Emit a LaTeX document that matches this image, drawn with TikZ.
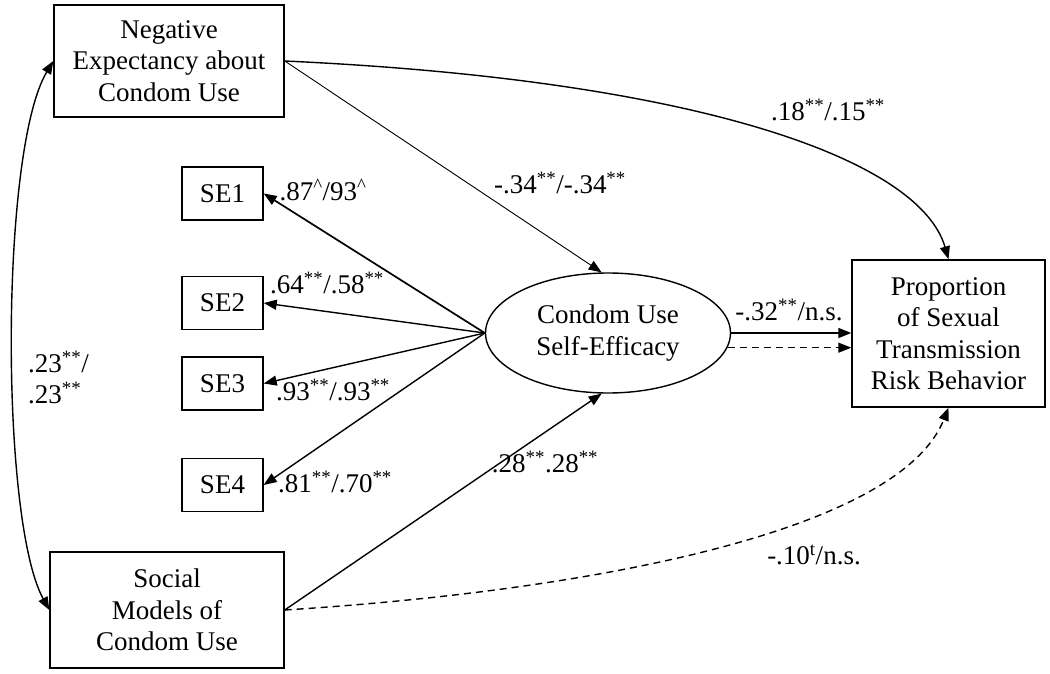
\documentclass[tikz,border=0pt]{standalone}
\usepackage{fontspec}
\setmainfont{Liberation Serif}
\usetikzlibrary{arrows.meta,shapes.geometric}
\newcommand\sst{\textsuperscript{**}}
\newcommand\sca{\textsuperscript{\textasciicircum}}
\begin{document}
\begin{tikzpicture}[x=1pt,y=-1pt,
  box/.style={draw,line width=1.4pt,inner sep=0pt,align=center,font=\fontsize{27}{31.5}\selectfont},
  lbl/.style={inner sep=0pt,font=\fontsize{27}{31.5}\selectfont},
  tip/.tip={Triangle[length=13pt,width=10pt]},
  arr/.style={line width=1.4pt,-tip},
  dsh/.style={dash pattern=on 7pt off 5pt}]
\useasboundingbox (0,0) rectangle (1050,674);
\node[box,minimum width=230pt,minimum height=112pt] (neg) at (169,61) {Negative\\Expectancy about\\Condom Use};
\node[box,minimum width=234pt,minimum height=116pt] (soc) at (167,610) {Social\\Models of\\Condom Use};
\node[box,minimum width=81pt,minimum height=53pt] (se1) at (222.5,193.5) {SE1};
\node[box,minimum width=81pt,minimum height=53pt] (se2) at (222.5,303) {SE2};
\node[box,minimum width=81pt,minimum height=53pt] (se3) at (222.5,383.5) {SE3};
\node[box,minimum width=81pt,minimum height=53pt] (se4) at (222.5,485) {SE4};
\node[box,ellipse,minimum width=245pt,minimum height=120pt] (eff) at (608,333) {Condom Use\\Self-Efficacy};
\node[box,minimum width=193pt,minimum height=147pt] (risk) at (948.5,333.5) {Proportion\\of Sexual\\Transmission\\Risk Behavior};
% connectors
\draw[arr,line width=0.9pt] (neg.east) -- (eff.96);
\draw[arr] (neg.east) .. controls (700,80) and (920,160) .. (risk.north);
\draw[arr,dsh] (soc.east) .. controls (600,590) and (900,530) .. (risk.south);
\draw[line width=1.4pt,tip-tip] (neg.west) .. controls (0,150) and (0,520) .. (soc.west);
\draw[arr,line width=1.7pt] (eff.west) -- (se1.east);
\draw[arr] (eff.west) -- (se2.east);
\draw[arr] (eff.west) -- (se3.east);
\draw[arr] (eff.west) -- (se4.east);
\draw[arr] (soc.east) -- (eff.264);
\draw[arr] (eff.east) -- (eff.east -| risk.west);
\draw[arr,dsh] (eff.-7.7) -- (eff.-7.7 -| risk.west);
% labels
\node[lbl] (l1) at (323,190) {.87\sca/93\sca};
\node[lbl] (l2) at (327,283) {.64\sst/.58\sst};
\node[lbl] (l3) at (333,390) {.93\sst/.93\sst};
\node[lbl] (l4) at (335,482) {.81\sst/.70\sst};
\node[lbl] (l5) at (560,183) {-.34\sst/-.34\sst};
\node[lbl] (l6) at (828,110) {.18\sst/.15\sst};
\node[lbl] (l7) at (789,310) {-.32\sst/n.s.};
\node[lbl] (l8) at (545,462) {.28\sst.28\sst};
\node[lbl] (l9) at (814,555) {-.10\textsuperscript{t}/n.s.};
\node[lbl,anchor=west] (l10) at (28,362) {.23\sst/};
\node[lbl,anchor=west] (l11) at (28,393) {.23\sst};
\end{tikzpicture}
\end{document}
